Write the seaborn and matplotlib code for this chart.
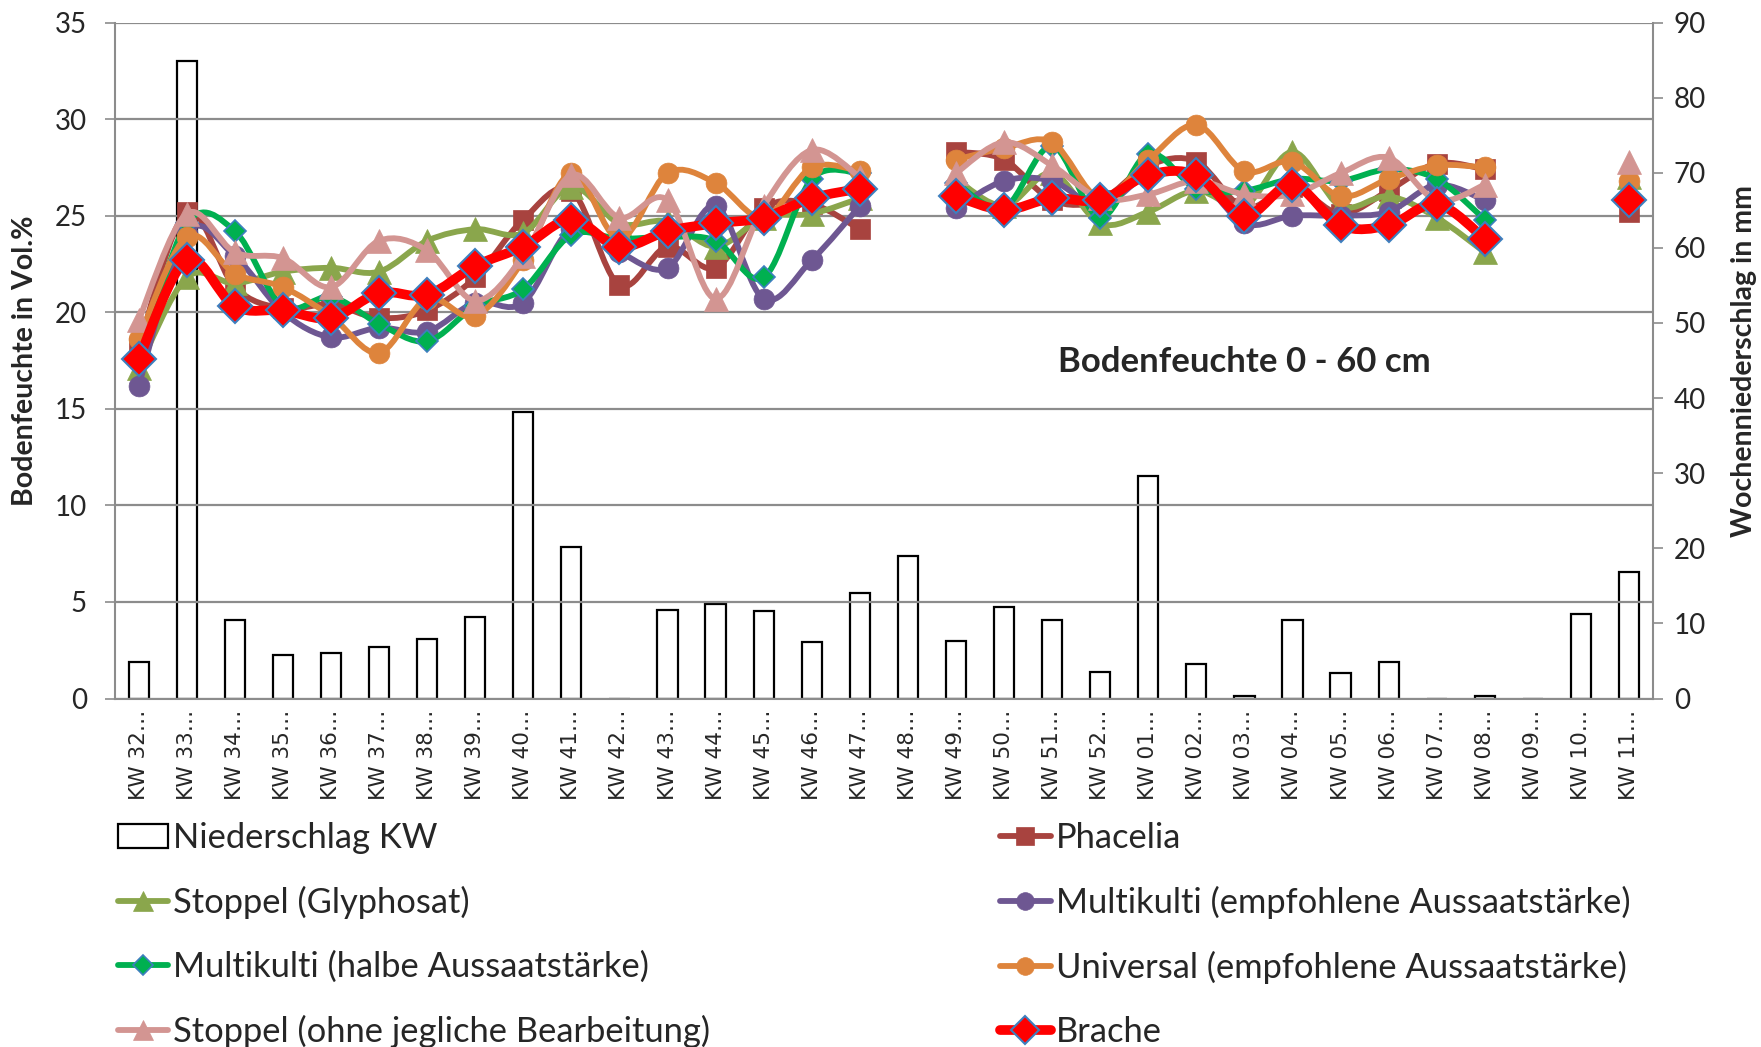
import numpy as np
import pandas as pd
import matplotlib
matplotlib.use("Agg")
import matplotlib.pyplot as plt
from matplotlib.path import Path
from matplotlib.patches import PathPatch, Patch
from matplotlib.lines import Line2D
import seaborn as sns

nan = np.nan

weeks = ["KW 32", "KW 33", "KW 34", "KW 35", "KW 36", "KW 37", "KW 38", "KW 39",
         "KW 40", "KW 41", "KW 42", "KW 43", "KW 44", "KW 45", "KW 46", "KW 47",
         "KW 48", "KW 49", "KW 50", "KW 51", "KW 52", "KW 01", "KW 02", "KW 03",
         "KW 04", "KW 05", "KW 06", "KW 07", "KW 08", "KW 09", "KW 10", "KW 11"]
tick_labels = [w + "\u2026" for w in weeks]

# weekly precipitation (mm, right axis)
niederschlag = [4.9, 84.9, 10.4, 5.8, 6.0, 6.9, 7.9, 10.9, 38.1, 20.2, 0.0, 11.8,
                12.6, 11.7, 7.5, 14.1, 19.0, 7.6, 12.2, 10.4, 3.5, 29.6, 4.6, 0.4,
                10.5, 3.4, 4.9, 0.0, 0.4, 0.0, 11.2, 16.8]

# soil moisture 0-60 cm (Vol.%, left axis)
phacelia = [18.2, 25.2, 21.3, 20.2, 20.4, 19.7, 20.1, 21.8, 24.8, 26.3, 21.4, 23.4,
            22.3, 25.4, 25.6, 24.3, nan, 28.3, 27.9, 25.8, 25.8, 27.6, 27.8, 25.4,
            26.5, 25.1, 26.3, 27.7, 27.4, nan, nan, 25.2]
stoppel_glyphosat = [17.1, 21.8, 21.5, 22.1, 22.3, 22.1, 23.7, 24.3, 24.1, 26.5, 24.6, 24.7,
                     23.4, 24.9, 25.1, 25.9, nan, 26.9, 25.5, 27.2, 24.6, 25.2, 26.3, 25.5,
                     28.3, 25.5, 26.0, 24.9, 23.1, nan, nan, 27.0]
multikulti_empf = [16.2, 24.1, 22.9, 20.0, 18.7, 19.2, 19.0, 20.5, 20.5, 24.3, 23.1, 22.3,
                   25.5, 20.7, 22.7, 25.5, nan, 25.4, 26.8, 26.8, 25.5, 27.1, 27.0, 24.6,
                   25.0, 25.0, 25.2, 26.6, 25.8, nan, nan, 25.8]
multikulti_halb = [17.3, 24.6, 24.2, 20.3, 20.8, 19.4, 18.5, 20.3, 21.2, 24.0, 23.8, 23.9,
                   23.7, 21.8, 26.9, 27.2, nan, 26.7, 25.4, 28.6, 24.9, 28.2, 26.4, 26.3,
                   26.9, 26.8, 27.4, 26.9, 24.8, nan, nan, 25.9]
universal = [18.6, 23.9, 22.0, 21.3, 19.8, 17.9, 20.7, 19.8, 22.7, 27.2, 23.8, 27.2,
             26.7, 24.9, 27.5, 27.3, nan, 27.9, 28.5, 28.8, 25.9, 27.9, 29.7, 27.3,
             27.8, 26.0, 26.9, 27.6, 27.5, nan, nan, 26.8]
stoppel_ohne = [19.6, 25.1, 23.1, 22.8, 21.3, 23.7, 23.2, 20.6, 22.9, 27.1, 24.9, 25.8,
                20.7, 25.5, 28.4, 27.0, nan, 27.2, 28.8, 27.6, 25.9, 26.1, 26.8, 26.1,
                26.1, 27.2, 28.0, 25.8, 26.6, nan, nan, 27.8]
brache = [17.6, 22.7, 20.3, 20.1, 19.7, 21.0, 20.9, 22.4, 23.4, 24.8, 23.4, 24.2,
          24.6, 24.9, 25.9, 26.4, nan, 26.0, 25.3, 25.9, 25.8, 27.1, 27.1, 25.0,
          26.6, 24.5, 24.5, 25.6, 23.8, nan, nan, 25.8]

series = [
    ("Phacelia", phacelia, dict(color="#A8433F", lw=4.2, marker="s", ms=15, mec="#A8433F", mew=0.5)),
    ("Stoppel (Glyphosat)", stoppel_glyphosat, dict(color="#8AA64C", lw=4.2, marker="^", ms=17, mec="#8AA64C", mew=0.5)),
    ("Multikulti (empfohlene Aussaatstärke)", multikulti_empf, dict(color="#6E5792", lw=4.2, marker="o", ms=15, mec="#6E5792", mew=0.5)),
    ("Multikulti (halbe Aussaatstärke)", multikulti_halb, dict(color="#00B050", lw=4.2, marker="D", ms=11.5, mec="#3D7FBF", mew=1.2)),
    ("Universal (empfohlene Aussaatstärke)", universal, dict(color="#DE843C", lw=4.2, marker="o", ms=15, mec="#DE843C", mew=0.5)),
    ("Stoppel (ohne jegliche Bearbeitung)", stoppel_ohne, dict(color="#D39592", lw=4.2, marker="^", ms=17, mec="#D39592", mew=0.5)),
    ("Brache", brache, dict(color="#FF0000", lw=7.0, marker="D", ms=17, mec="#3D7FBF", mew=1.5)),
]

sns.set_theme(style="white")
plt.rcParams["font.family"] = ["Lato", "DejaVu Sans"]

GRAY = "#8C8C8C"

fig = plt.figure(figsize=(17.61, 10.47), dpi=100)
ax_bar = fig.add_axes([0.0651, 0.3328, 0.8736, 0.6457])

df = pd.DataFrame({"Woche": weeks, "Niederschlag": niederschlag})
sns.barplot(data=df, x="Woche", y="Niederschlag", ax=ax_bar, color="white",
            edgecolor="black", linewidth=1.6, width=0.42, saturation=1)
ax_line = ax_bar.twinx()

# precipitation axis on the right
ax_bar.set_ylim(0, 90)
ax_bar.set_yticks(range(0, 91, 10))
ax_bar.yaxis.tick_right()
ax_bar.yaxis.set_label_position("right")
ax_bar.set_ylabel("Wochenniederschlag in mm", fontsize=20.5, fontweight="bold")
ax_bar.yaxis.set_label_coords(1.0505, 0.5)
ax_bar.set_xlim(-0.5, len(weeks) - 0.5)
ax_bar.set_xlabel("")
ax_bar.set_xticks(range(len(weeks)))
ax_bar.set_xticklabels(tick_labels, rotation=90, fontsize=15.5, family="DejaVu Sans")
ax_bar.set_xticks(np.arange(-0.5, len(weeks), 1.0), minor=True)
ax_bar.tick_params(axis="x", which="major", length=0, pad=8)
ax_bar.tick_params(axis="x", which="minor", length=9, width=1.2, color=GRAY, direction="out")
ax_bar.tick_params(axis="y", which="major", length=7, width=1.2, color=GRAY,
                   direction="out", labelsize=20, pad=8)
for side in ("left", "right", "bottom"):
    ax_bar.spines[side].set_visible(True)
    ax_bar.spines[side].set_color(GRAY)
    ax_bar.spines[side].set_linewidth(1.5)
ax_bar.spines["top"].set_visible(False)
ax_bar.grid(False)

# soil moisture axis on the left
ax_line.set_ylim(0, 35)
ax_line.set_yticks(range(0, 36, 5))
ax_line.yaxis.tick_left()
ax_line.yaxis.set_label_position("left")
ax_line.set_ylabel("Bodenfeuchte in Vol.%", fontsize=20.5, fontweight="bold")
ax_line.yaxis.set_label_coords(-0.0498, 0.5)
ax_line.tick_params(axis="y", which="major", length=7, width=1.2, color=GRAY,
                    direction="out", labelsize=20, pad=13)
ax_line.grid(axis="y", color=GRAY, lw=1.6)
ax_line.grid(axis="x", visible=False)
for s in ax_line.spines.values():
    s.set_visible(False)


def smooth_path(xs, ys):
    pts = np.column_stack([xs, ys])
    n = len(pts)
    verts = [pts[0]]
    codes = [Path.MOVETO]
    for i in range(n - 1):
        p0 = pts[i - 1] if i > 0 else pts[i]
        p1 = pts[i]
        p2 = pts[i + 1]
        p3 = pts[i + 2] if i + 2 < n else pts[i + 1]
        verts += [p1 + (p2 - p0) / 6.0, p2 - (p3 - p1) / 6.0, p2]
        codes += [Path.CURVE4] * 3
    return Path(verts, codes)


xpos = np.arange(len(weeks))
handles = [Patch(facecolor="white", edgecolor="black", lw=1.6)]
labels = ["Niederschlag KW"]
for k, (name, vals, st) in enumerate(series):
    y = np.array(vals, dtype=float)
    z = 3 + 2 * k
    ok = ~np.isnan(y)
    # split into runs of consecutive values
    runs, start = [], None
    for i in range(len(y) + 1):
        if i < len(y) and ok[i]:
            if start is None:
                start = i
        elif start is not None:
            runs.append((start, i))
            start = None
    for a, b in runs:
        if b - a > 1:
            ax_line.add_patch(PathPatch(smooth_path(xpos[a:b], y[a:b]), facecolor="none",
                                        edgecolor=st["color"], lw=st["lw"],
                                        capstyle="round", joinstyle="round", zorder=z))
    ax_line.plot(xpos[ok], y[ok], linestyle="none", marker=st["marker"], ms=st["ms"],
                 mfc=st["color"], mec=st["mec"], mew=st["mew"], zorder=z + 1)
    handles.append(Line2D([], [], color=st["color"], lw=st["lw"], marker=st["marker"],
                          ms=st["ms"] * 0.85, mfc=st["color"], mec=st["mec"], mew=st["mew"]))
    labels.append(name)

ax_line.text(23.0, 17.4, "Bodenfeuchte 0 - 60 cm", fontsize=25, fontweight="bold",
             ha="center", va="center", zorder=30)

left_idx = [0, 2, 4, 6]
right_idx = [1, 3, 5, 7]
common = dict(loc="upper left", frameon=False, fontsize=24.8, handlelength=1.46,
              handletextpad=0.15, labelspacing=0.92, borderpad=0, borderaxespad=0)
fig.legend([handles[i] for i in left_idx], [labels[i] for i in left_idx],
           bbox_to_anchor=(0.067, 0.2145), **common)
fig.legend([handles[i] for i in right_idx], [labels[i] for i in right_idx],
           bbox_to_anchor=(0.568, 0.2145), **common)

fig.savefig("out.png", dpi=100)
